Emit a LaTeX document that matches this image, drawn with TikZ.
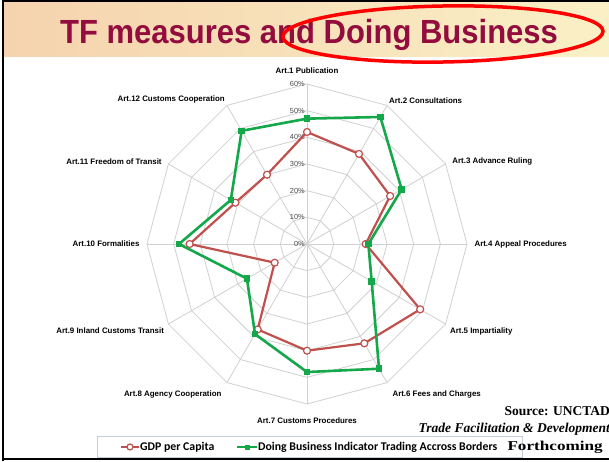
\documentclass[tikz,border=0pt]{standalone}
\usepackage{fontspec}
\setmainfont{Liberation Sans}
\newfontfamily\serifsrc{Liberation Serif}
\newfontfamily\legendfont{Carlito}
\definecolor{titlered}{HTML}{920C3E}
\definecolor{gdpred}{HTML}{C0504D}
\definecolor{dbgreen}{HTML}{14A84A}
\definecolor{gridgray}{HTML}{D0D0D0}
\definecolor{bandleft}{HTML}{F5D3AE}
\definecolor{bandright}{HTML}{FAF0C6}
\definecolor{legendgray}{HTML}{C4CCD8}
\begin{document}
\begin{tikzpicture}[x=1pt,y=1pt,
    artlabel/.style={font=\bfseries\fontsize{7.9}{9}\selectfont,inner sep=2pt},
    pctlabel/.style={font=\fontsize{7.4}{8}\selectfont,text=black!70,anchor=east,inner sep=2pt},
    gdpmark/.style={circle,draw=gdpred,fill=white,line width=1.2pt,inner sep=0pt,minimum size=7pt},
    dbmark/.style={rectangle,fill=dbgreen,inner sep=0pt,minimum size=6.5pt},
    srctext/.style={font=\serifsrc\bfseries\fontsize{13.5}{15}\selectfont,anchor=east,inner sep=0pt}]
    \useasboundingbox (0,0) rectangle (609,461);
    \fill[white] (0,0) rectangle (609,461);
    \shade[left color=bandleft,right color=bandright] (4,404) rectangle (609,458);
    \draw[line width=2pt] (3,0) -- (3,460) -- (609,460);
    \draw[line width=2pt] (3,2) -- (609,2);
    \node[font=\bfseries\fontsize{31}{36}\selectfont,text=titlered,yscale=1.08] (title) at (309,426) {TF measures and Doing Business};
    \draw[red,line width=3.5pt,rotate around={1:(443,427)}] (443,427) ellipse (160 and 28);
    \begin{scope}[shift={(307,217)},x=2.667pt,y=2.667pt]
        \foreach \r in {10,20,...,60}
            \draw[gridgray,line width=0.8pt] (0:\r) \foreach \a in {30,60,...,330} { -- (\a:\r) } -- cycle;
        \foreach \a in {0,30,...,330}
            \draw[gridgray,line width=0.8pt] (0,0) -- (\a:60);
        \foreach \r in {0,10,...,60}
            \node[pctlabel] (p\r) at (90:\r) {\r\%};
        \foreach \a/\pos/\anc/\txt in {90/63/south/Art.1 Publication,
                60/60/south west/Art.2 Consultations,
                30/62/west/Art.3 Advance Ruling,
                0/62/west/Art.4 Appeal Procedures,
                -30/61/north west/Art.5 Impartiality,
                -60/62.5/north west/Art.6 Fees and Charges,
                -90/64.5/north/Art.7 Customs Procedures,
                -120/62.5/north east/Art.8 Agency Cooperation,
                -150/61/north east/Art.9 Inland Customs Transit,
                180/62/east/Art.10 Formalities,
                150/62/east/Art.11 Freedom of Transit,
                120/60/south east/Art.12 Customs Cooperation}
            \node[artlabel,anchor=\anc] (art\a) at (\a:\pos) {\txt};
        \foreach \v [count=\k] in {42,39,36,22,49,43,40,37,14,44,31,30}
            \coordinate (g\k) at ({90-30*(\k-1)}:\v);
        \foreach \v [count=\k] in {47,55,41,23,28,54,48,39,26,48,33,49}
            \coordinate (d\k) at ({90-30*(\k-1)}:\v);
        \draw[gdpred,line width=2.2pt,line join=round] (g1) \foreach \k in {2,...,12} { -- (g\k) } -- cycle;
        \foreach \k in {1,...,12}
            \node[gdpmark] (gm\k) at (g\k) {};
        \draw[dbgreen,line width=2.6pt,line join=round] (d1) \foreach \k in {2,...,12} { -- (d\k) } -- cycle;
        \foreach \k in {1,...,12}
            \node[dbmark] (dm\k) at (d\k) {};
    \end{scope}
    \node[draw=legendgray,line width=0.8pt,minimum width=425,minimum height=21,inner sep=0pt] (legend) at (309.5,14) {};
    \node[font=\legendfont\bfseries\fontsize{11.8}{13}\selectfont,anchor=west,inner sep=1pt] (gdpkey) at (139,14) {GDP per Capita};
    \node[font=\legendfont\bfseries\fontsize{11.8}{13}\selectfont,anchor=west,inner sep=1pt] (dbkey) at (257,14) {Doing Business Indicator Trading Accross Borders};
    \draw[gdpred,line width=1.8pt] ([xshift=-18pt]gdpkey.west) -- (gdpkey.west);
    \node[gdpmark,minimum size=6pt] (gdpsym) at ([xshift=-9pt]gdpkey.west) {};
    \draw[dbgreen,line width=1.8pt] ([xshift=-20pt]dbkey.west) -- (dbkey.west);
    \node[dbmark,minimum size=5pt] (dbsym) at ([xshift=-10pt]dbkey.west) {};
    \node[srctext] (source) at (610,50) {Source: UNCTAD};
    \node[srctext,font=\serifsrc\bfseries\itshape\fontsize{13.5}{15}\selectfont] (trade) at (610,32) {Trade Facilitation \& Development};
    \node[srctext,xscale=1.27] (forth) at (603,14) {Forthcoming};
\end{tikzpicture}
\end{document}
